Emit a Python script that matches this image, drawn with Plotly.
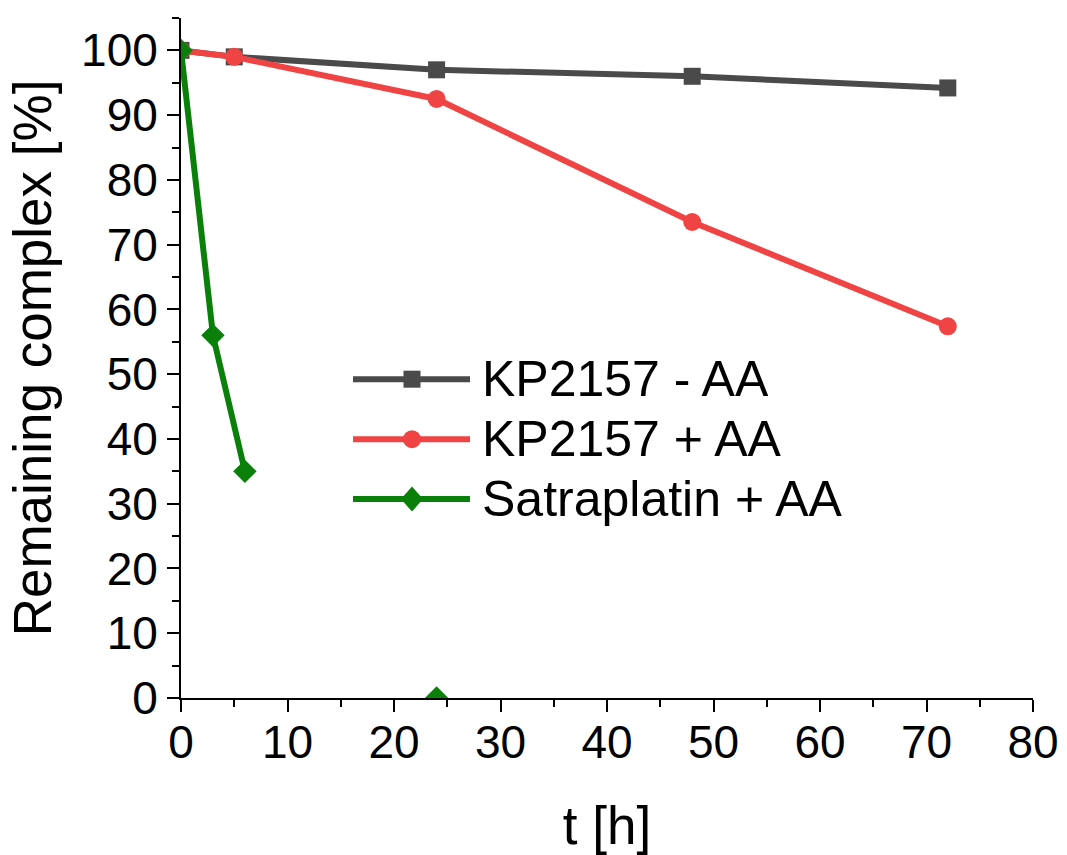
import plotly.graph_objects as go

# Time points (h) and remaining complex (%) for each series
kp_minus_t = [0, 5, 24, 48, 72]
kp_minus_y = [100, 99, 97, 96, 94.2]

kp_plus_t = [0, 5, 24, 48, 72]
kp_plus_y = [100, 99, 92.5, 73.5, 57.4]

sat_t = [0, 3, 6, 24]
sat_y = [100, 56, 35, 0]
sat_connected_until = 6  # the 24 h point is shown without a connecting line

names = ["KP2157 - AA", "KP2157 + AA", "Satraplatin + AA"]
colors = ["#4a4a4a", "#f04343", "#0a800a"]
symbols = ["square", "circle", "diamond"]
sizes = [17, 18, 18]

FONT = "Arial, Liberation Sans, sans-serif"
W, H = 1067, 855
L, R, T, B = 181, 34, 17.6, 157
LW = 6

fig = go.Figure()

fig.add_trace(go.Scatter(
    x=kp_minus_t, y=kp_minus_y, mode="lines+markers", name=names[0],
    line=dict(color=colors[0], width=LW),
    marker=dict(symbol=symbols[0], size=sizes[0], color=colors[0], line=dict(width=0)),
    showlegend=False))

fig.add_trace(go.Scatter(
    x=kp_plus_t, y=kp_plus_y, mode="lines+markers", name=names[1],
    line=dict(color=colors[1], width=LW),
    marker=dict(symbol=symbols[1], size=sizes[1], color=colors[1], line=dict(width=0)),
    showlegend=False))

conn_t = [t for t in sat_t if t <= sat_connected_until]
conn_y = [y for t, y in zip(sat_t, sat_y) if t <= sat_connected_until]
rest_t = [t for t in sat_t if t > sat_connected_until]
rest_y = [y for t, y in zip(sat_t, sat_y) if t > sat_connected_until]

fig.add_trace(go.Scatter(
    x=conn_t, y=conn_y, mode="lines+markers", name=names[2],
    line=dict(color=colors[2], width=LW),
    marker=dict(symbol=symbols[2], size=sizes[2], color=colors[2], line=dict(width=0)),
    showlegend=False))
fig.add_trace(go.Scatter(
    x=rest_t, y=rest_y, mode="markers", name=names[2],
    marker=dict(symbol=symbols[2], size=sizes[2], color=colors[2], line=dict(width=0)),
    showlegend=False))

# Legend drawn as line samples with centred markers, in paper coordinates
pw, ph = W - L - R, H - T - B


def px_x(p):
    return (p - L) / pw


def px_y(p):
    return (H - B - p) / ph


leg_x0, leg_x1, leg_mid, text_x = 353, 470, 412, 480
rows = [379, 439, 499]
for i, py in enumerate(rows):
    fig.add_shape(type="line", xref="paper", yref="paper",
                  x0=px_x(leg_x0), x1=px_x(leg_x1), y0=px_y(py), y1=px_y(py),
                  line=dict(color=colors[i], width=LW), layer="above")
    s = sizes[i]
    if symbols[i] == "square":
        fig.add_shape(type="rect", xref="paper", yref="paper",
                      xsizemode="pixel", ysizemode="pixel",
                      xanchor=px_x(leg_mid), yanchor=px_y(py),
                      x0=-s / 2, x1=s / 2, y0=-s / 2, y1=s / 2,
                      fillcolor=colors[i], line=dict(width=0), layer="above")
    elif symbols[i] == "circle":
        fig.add_shape(type="circle", xref="paper", yref="paper",
                      xsizemode="pixel", ysizemode="pixel",
                      xanchor=px_x(leg_mid), yanchor=px_y(py),
                      x0=-s / 2, x1=s / 2, y0=-s / 2, y1=s / 2,
                      fillcolor=colors[i], line=dict(width=0), layer="above")
    else:
        hw, hh = 11, 12.5
        fig.add_shape(type="path", xref="paper", yref="paper",
                      xsizemode="pixel", ysizemode="pixel",
                      xanchor=px_x(leg_mid), yanchor=px_y(py),
                      path=f"M{-hw},0 L0,{hh} L{hw},0 L0,{-hh} Z",
                      fillcolor=colors[i], line=dict(width=0), layer="above")
    fig.add_annotation(xref="paper", yref="paper", x=px_x(text_x), y=px_y(py),
                       text=names[i], showarrow=False, xanchor="left", yanchor="middle",
                       font=dict(family=FONT, size=50, color="black"))

axis_common = dict(
    showgrid=False, zeroline=False, showline=True, linecolor="black", linewidth=2,
    ticks="outside", ticklen=12, tickwidth=2, tickcolor="black",
    tickfont=dict(family=FONT, size=46, color="black"),
    minor=dict(ticks="outside", ticklen=7, tickwidth=2, tickcolor="black", dtick=5),
    mirror=False,
)

fig.update_xaxes(range=[0, 80], dtick=10, tick0=0, ticklabelstandoff=-9,
                 title=dict(text="t [h]", font=dict(family=FONT, size=53, color="black"), standoff=42),
                 **axis_common)
fig.update_yaxes(range=[0, 105], tickvals=list(range(0, 101, 10)),
                 title=dict(text="Remaining complex [%]", font=dict(family=FONT, size=53, color="black"), standoff=12),
                 **axis_common)

fig.update_layout(
    width=W, height=H,
    margin=dict(l=L, r=R, t=T, b=B, autoexpand=False),
    plot_bgcolor="white", paper_bgcolor="white",
    showlegend=False,
)

fig.write_html("out.html")
